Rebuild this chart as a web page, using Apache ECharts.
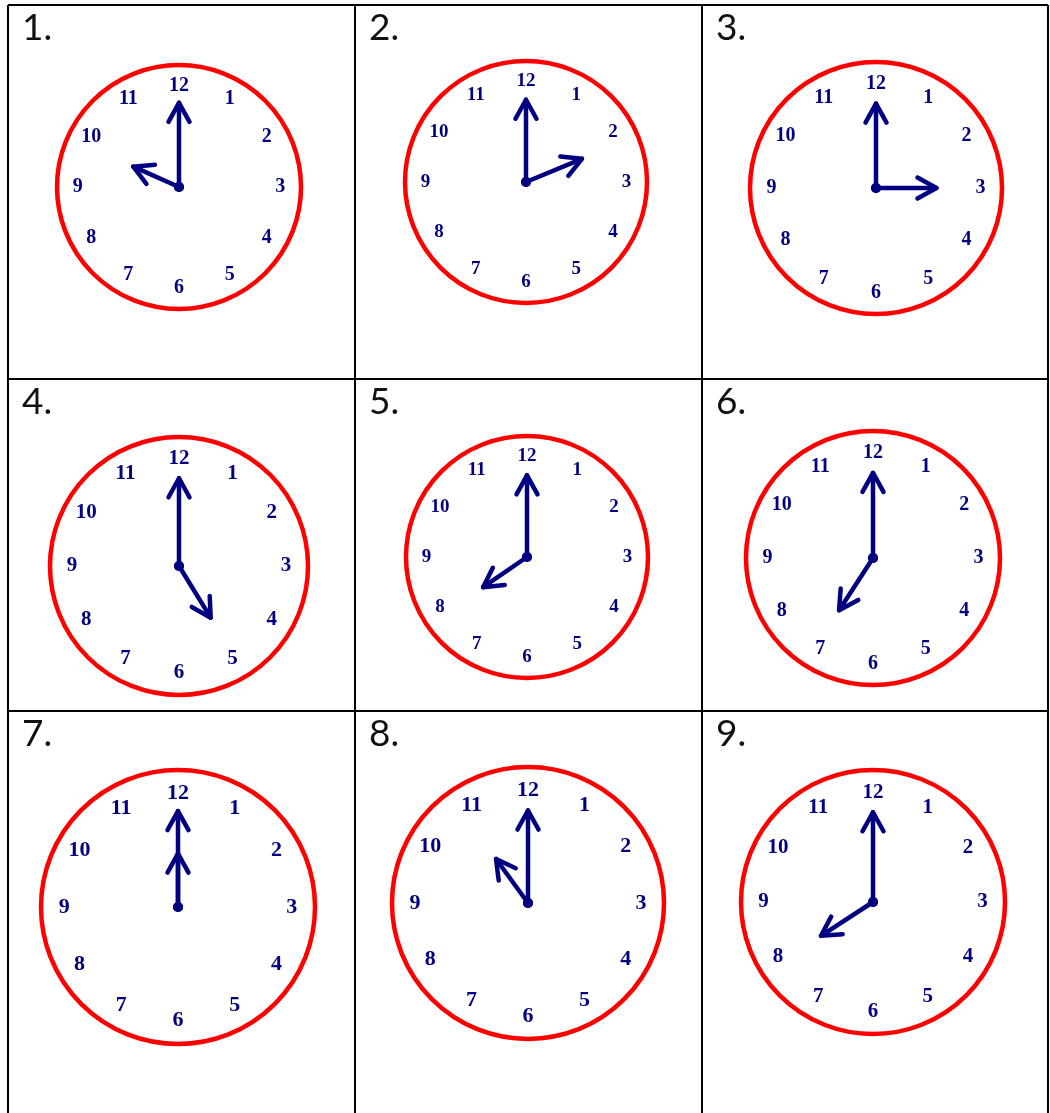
<!DOCTYPE html>
<html>
<head>
<meta charset="utf-8">
<title>Clocks</title>
<script src="https://cdn.jsdelivr.net/npm/echarts@6/dist/echarts.min.js"></script>
<style>
  html, body { margin: 0; padding: 0; background: #fff; }
  #chart { width: 1050px; height: 1113px; }
</style>
</head>
<body>
<div id="chart"></div>
<script>
// values
const clockLabels = ["1.", "2.", "3.", "4.", "5.", "6.", "7.", "8.", "9."]
const dialNumbers = [1, 2, 3, 4, 5, 6, 7, 8, 9, 10, 11, 12]
// hand positions on the dial, in hours (12 = top)
const hourHand = [9.8, 2.25, 3, 4.95, 7.85, 7.1, 12, 10.8, 7.9]
const minuteHand = [12, 12, 12, 12, 12, 12, 12, 12, 12]
// hand lengths as a share of the dial radius
const hourHandLen = [0.41, 0.5, 0.48, 0.47, 0.44, 0.49, 0.39, 0.4, 0.47]
const minuteHandLen = [0.69, 0.68, 0.67, 0.68, 0.675, 0.67, 0.7, 0.68, 0.68]
const numberRadius = 0.83

// layout: dial centre x, centre y, radius (px)
const dialLayout = [
  [179, 187, 122], [526, 182, 121], [876, 188, 126],
  [179, 566, 129], [527, 557, 121], [873, 558, 127],
  [178, 907, 137], [528, 903, 136], [873, 902, 132]
]
const colX = [8, 355, 702, 1048]
const rowY = [5, 379, 711, 1130]

const NAVY = "#000080"
const RED = "#ff0000"
const HEAD_LEN = 19
const HEAD_HALF = 10.5

const chart = echarts.init(document.getElementById("chart"))

const renderHand = (params, api) => {
  const c = api.coord([0, 0])
  const t = api.coord([api.value(0), api.value(1)])
  const dx = c[0] - t[0]
  const dy = c[1] - t[1]
  const len = Math.hypot(dx, dy) || 1
  const ux = dx / len
  const uy = dy / len
  const b1 = [t[0] + ux * HEAD_LEN - uy * HEAD_HALF, t[1] + uy * HEAD_LEN + ux * HEAD_HALF]
  const b2 = [t[0] + ux * HEAD_LEN + uy * HEAD_HALF, t[1] + uy * HEAD_LEN - ux * HEAD_HALF]
  const style = { stroke: NAVY, lineWidth: 4.5, fill: null, lineCap: "round", lineJoin: "round" }
  return {
    type: "group",
    children: [
      { type: "polyline", shape: { points: [c, t] }, style: style },
      { type: "polyline", shape: { points: [b1, t, b2] }, style: style },
      { type: "circle", shape: { cx: c[0], cy: c[1], r: 5 }, style: { fill: NAVY } }
    ]
  }
}

const polar = []
const angleAxis = []
const radiusAxis = []
const series = []
const title = []

dialLayout.forEach((d, i) => {
  polar.push({ center: [d[0], d[1]], radius: d[2] })
  angleAxis.push({
    polarIndex: i,
    type: "value",
    min: 0,
    max: 12,
    interval: 1,
    startAngle: 90,
    clockwise: true,
    axisLine: { show: true, lineStyle: { color: RED, width: 4.5 } },
    axisTick: { show: false },
    axisLabel: { show: false },
    splitLine: { show: false }
  })
  radiusAxis.push({
    polarIndex: i,
    type: "value",
    min: 0,
    max: 1,
    axisLine: { show: false },
    axisTick: { show: false },
    axisLabel: { show: false },
    splitLine: { show: false }
  })
  series.push({
    type: "scatter",
    coordinateSystem: "polar",
    polarIndex: i,
    symbolSize: 0,
    silent: true,
    itemStyle: { opacity: 1 },
    label: {
      show: true,
      position: "inside",
      formatter: (p) => String(p.value[2]),
      color: NAVY,
      fontFamily: "Liberation Serif",
      fontWeight: "bold",
      fontSize: Math.round(d[2] * 0.16)
    },
    data: dialNumbers.map((n) => [numberRadius, n, n])
  })
  series.push({
    type: "custom",
    coordinateSystem: "polar",
    polarIndex: i,
    silent: true,
    renderItem: renderHand,
    data: [
      [minuteHandLen[i], minuteHand[i]],
      [hourHandLen[i], hourHand[i]]
    ]
  })
  title.push({
    text: clockLabels[i],
    left: colX[i % 3] + 14,
    top: rowY[Math.floor(i / 3)] + 5,
    padding: 0,
    textStyle: { fontFamily: "Lato", fontWeight: "normal", fontSize: 37, color: "#111" }
  })
})

// table lines
const lines = []
colX.forEach((x) => lines.push({ type: "line", shape: { x1: x, y1: rowY[0], x2: x, y2: rowY[3] } }))
rowY.slice(0, 3).forEach((y) => lines.push({ type: "line", shape: { x1: colX[0], y1: y, x2: colX[3], y2: y } }))
lines.forEach((l) => { l.style = { stroke: "#000", lineWidth: 2 }; l.silent = true })

chart.setOption({
  animation: false,
  backgroundColor: "#fff",
  title: title,
  polar: polar,
  angleAxis: angleAxis,
  radiusAxis: radiusAxis,
  graphic: lines,
  series: series
})
</script>
</body>
</html>
